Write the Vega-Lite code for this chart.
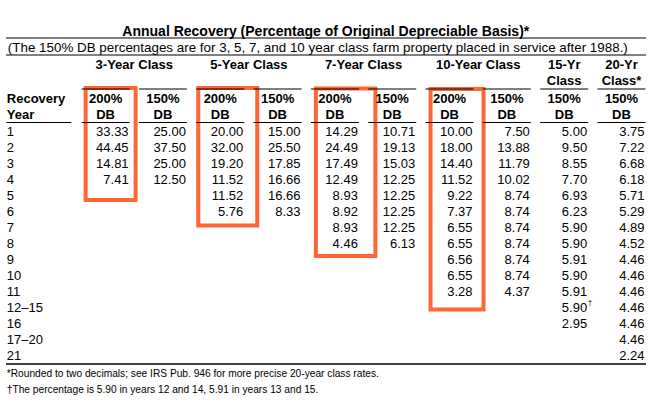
{
  "$schema": "https://vega.github.io/schema/vega-lite/v6.json",
  "width": 657,
  "height": 405,
  "autosize": {"type": "fit", "contains": "padding"},
  "padding": {"left": 5, "right": 10, "top": 0, "bottom": 0},
  "background": "white",
  "config": {"view": {"stroke": null}, "text": {"font": "Liberation Sans", "fontSize": 13, "color": "black"}},
  "datasets": {
    "cells": [
      {"row": 1, "col": 1, "v": 33.33}, {"row": 2, "col": 1, "v": 44.45}, {"row": 3, "col": 1, "v": 14.81}, {"row": 4, "col": 1, "v": 7.41},
      {"row": 1, "col": 2, "v": 25.00}, {"row": 2, "col": 2, "v": 37.50}, {"row": 3, "col": 2, "v": 25.00}, {"row": 4, "col": 2, "v": 12.50},
      {"row": 1, "col": 3, "v": 20.00}, {"row": 2, "col": 3, "v": 32.00}, {"row": 3, "col": 3, "v": 19.20}, {"row": 4, "col": 3, "v": 11.52}, {"row": 5, "col": 3, "v": 11.52}, {"row": 6, "col": 3, "v": 5.76},
      {"row": 1, "col": 4, "v": 15.00}, {"row": 2, "col": 4, "v": 25.50}, {"row": 3, "col": 4, "v": 17.85}, {"row": 4, "col": 4, "v": 16.66}, {"row": 5, "col": 4, "v": 16.66}, {"row": 6, "col": 4, "v": 8.33},
      {"row": 1, "col": 5, "v": 14.29}, {"row": 2, "col": 5, "v": 24.49}, {"row": 3, "col": 5, "v": 17.49}, {"row": 4, "col": 5, "v": 12.49}, {"row": 5, "col": 5, "v": 8.93}, {"row": 6, "col": 5, "v": 8.92}, {"row": 7, "col": 5, "v": 8.93}, {"row": 8, "col": 5, "v": 4.46},
      {"row": 1, "col": 6, "v": 10.71}, {"row": 2, "col": 6, "v": 19.13}, {"row": 3, "col": 6, "v": 15.03}, {"row": 4, "col": 6, "v": 12.25}, {"row": 5, "col": 6, "v": 12.25}, {"row": 6, "col": 6, "v": 12.25}, {"row": 7, "col": 6, "v": 12.25}, {"row": 8, "col": 6, "v": 6.13},
      {"row": 1, "col": 7, "v": 10.00}, {"row": 2, "col": 7, "v": 18.00}, {"row": 3, "col": 7, "v": 14.40}, {"row": 4, "col": 7, "v": 11.52}, {"row": 5, "col": 7, "v": 9.22}, {"row": 6, "col": 7, "v": 7.37}, {"row": 7, "col": 7, "v": 6.55}, {"row": 8, "col": 7, "v": 6.55}, {"row": 9, "col": 7, "v": 6.56}, {"row": 10, "col": 7, "v": 6.55}, {"row": 11, "col": 7, "v": 3.28},
      {"row": 1, "col": 8, "v": 7.50}, {"row": 2, "col": 8, "v": 13.88}, {"row": 3, "col": 8, "v": 11.79}, {"row": 4, "col": 8, "v": 10.02}, {"row": 5, "col": 8, "v": 8.74}, {"row": 6, "col": 8, "v": 8.74}, {"row": 7, "col": 8, "v": 8.74}, {"row": 8, "col": 8, "v": 8.74}, {"row": 9, "col": 8, "v": 8.74}, {"row": 10, "col": 8, "v": 8.74}, {"row": 11, "col": 8, "v": 4.37},
      {"row": 1, "col": 9, "v": 5.00}, {"row": 2, "col": 9, "v": 9.50}, {"row": 3, "col": 9, "v": 8.55}, {"row": 4, "col": 9, "v": 7.70}, {"row": 5, "col": 9, "v": 6.93}, {"row": 6, "col": 9, "v": 6.23}, {"row": 7, "col": 9, "v": 5.90}, {"row": 8, "col": 9, "v": 5.90}, {"row": 9, "col": 9, "v": 5.91}, {"row": 10, "col": 9, "v": 5.90}, {"row": 11, "col": 9, "v": 5.91}, {"row": 12, "col": 9, "v": 5.90}, {"row": 13, "col": 9, "v": 2.95},
      {"row": 1, "col": 10, "v": 3.75}, {"row": 2, "col": 10, "v": 7.22}, {"row": 3, "col": 10, "v": 6.68}, {"row": 4, "col": 10, "v": 6.18}, {"row": 5, "col": 10, "v": 5.71}, {"row": 6, "col": 10, "v": 5.29}, {"row": 7, "col": 10, "v": 4.89}, {"row": 8, "col": 10, "v": 4.52}, {"row": 9, "col": 10, "v": 4.46}, {"row": 10, "col": 10, "v": 4.46}, {"row": 11, "col": 10, "v": 4.46}, {"row": 12, "col": 10, "v": 4.46}, {"row": 13, "col": 10, "v": 4.46}, {"row": 14, "col": 10, "v": 4.46}, {"row": 15, "col": 10, "v": 2.24}
    ],
    "years": [
      {"row": 1, "col": 0, "t": "1"}, {"row": 2, "col": 0, "t": "2"}, {"row": 3, "col": 0, "t": "3"}, {"row": 4, "col": 0, "t": "4"}, {"row": 5, "col": 0, "t": "5"},
      {"row": 6, "col": 0, "t": "6"}, {"row": 7, "col": 0, "t": "7"}, {"row": 8, "col": 0, "t": "8"}, {"row": 9, "col": 0, "t": "9"}, {"row": 10, "col": 0, "t": "10"},
      {"row": 11, "col": 0, "t": "11"}, {"row": 12, "col": 0, "t": "12–15"}, {"row": 13, "col": 0, "t": "16"}, {"row": 14, "col": 0, "t": "17–20"}, {"row": 15, "col": 0, "t": "21"}
    ],
    "stub": [{"row": -1, "col": 0, "t": "Recovery"}, {"row": 0, "col": 0, "t": "Year"}],
    "classHeads": [
      {"row": -3, "col": 1.5, "t": "3-Year Class"}, {"row": -3, "col": 3.5, "t": "5-Year Class"},
      {"row": -3, "col": 5.5, "t": "7-Year Class"}, {"row": -3, "col": 7.5, "t": "10-Year Class"},
      {"row": -3, "col": 9, "t": "15-Yr"}, {"row": -2, "col": 9, "t": "Class"},
      {"row": -3, "col": 10, "t": "20-Yr"}, {"row": -2, "col": 10, "t": "Class*"}
    ],
    "colHeads": [
      {"row": -1, "col": 1, "t": "200%"}, {"row": 0, "col": 1, "t": "DB"},
      {"row": -1, "col": 2, "t": "150%"}, {"row": 0, "col": 2, "t": "DB"},
      {"row": -1, "col": 3, "t": "200%"}, {"row": 0, "col": 3, "t": "DB"},
      {"row": -1, "col": 4, "t": "150%"}, {"row": 0, "col": 4, "t": "DB"},
      {"row": -1, "col": 5, "t": "200%"}, {"row": 0, "col": 5, "t": "DB"},
      {"row": -1, "col": 6, "t": "150%"}, {"row": 0, "col": 6, "t": "DB"},
      {"row": -1, "col": 7, "t": "200%"}, {"row": 0, "col": 7, "t": "DB"},
      {"row": -1, "col": 8, "t": "150%"}, {"row": 0, "col": 8, "t": "DB"},
      {"row": -1, "col": 9, "t": "150%"}, {"row": 0, "col": 9, "t": "DB"},
      {"row": -1, "col": 10, "t": "150%"}, {"row": 0, "col": 10, "t": "DB"}
    ],
    "colLines": [
      {"col": 1}, {"col": 2}, {"col": 3}, {"col": 4}, {"col": 5},
      {"col": 6}, {"col": 7}, {"col": 8}, {"col": 9}, {"col": 10}
    ],
    "notes": [
      {"row": 16, "col": 0, "t": "*Rounded to two decimals; see IRS Pub. 946 for more precise 20-year class rates."},
      {"row": 17, "col": 0, "t": "†The percentage is 5.90 in years 12 and 14, 5.91 in years 13 and 15."}
    ],
    "daggers": [{"row": 12, "col": 9, "t": "†"}]
  },
  "layer": [
    {
      "data": {"values": [{"col": 1, "top": -1, "bottom": 4}]},
      "mark": {"type": "rect", "fill": null, "stroke": "#FF6633", "strokeWidth": 4, "xOffset": -43, "x2Offset": 7, "yOffset": -11.5, "y2Offset": 20.5},
      "encoding": {
        "x": {"field": "col", "type": "quantitative", "scale": {"domain": [-1.1391304, 10.026087], "nice": false, "zero": false}, "axis": null},
        "x2": {"field": "col"},
        "y": {"field": "top", "type": "quantitative", "scale": {"domain": [-7.21875, 18.09375], "nice": false, "zero": false, "reverse": true}, "axis": null},
        "y2": {"field": "bottom"}
      }
    },
    {
      "data": {"values": [{"col": 3, "top": -1, "bottom": 6}]},
      "mark": {"type": "rect", "fill": null, "stroke": "#FF6633", "strokeWidth": 4, "xOffset": -45, "x2Offset": 14, "yOffset": -11.5, "y2Offset": 14},
      "encoding": {
        "x": {"field": "col", "type": "quantitative", "scale": {"domain": [-1.1391304, 10.026087], "nice": false, "zero": false}, "axis": null},
        "x2": {"field": "col"},
        "y": {"field": "top", "type": "quantitative", "scale": {"domain": [-7.21875, 18.09375], "nice": false, "zero": false, "reverse": true}, "axis": null},
        "y2": {"field": "bottom"}
      }
    },
    {
      "data": {"values": [{"col": 5, "top": -1, "bottom": 8}]},
      "mark": {"type": "rect", "fill": null, "stroke": "#FF6633", "strokeWidth": 4, "xOffset": -42, "x2Offset": 17.5, "yOffset": -11, "y2Offset": 12.5},
      "encoding": {
        "x": {"field": "col", "type": "quantitative", "scale": {"domain": [-1.1391304, 10.026087], "nice": false, "zero": false}, "axis": null},
        "x2": {"field": "col"},
        "y": {"field": "top", "type": "quantitative", "scale": {"domain": [-7.21875, 18.09375], "nice": false, "zero": false, "reverse": true}, "axis": null},
        "y2": {"field": "bottom"}
      }
    },
    {
      "data": {"values": [{"col": 7, "top": -1, "bottom": 11}]},
      "mark": {"type": "rect", "fill": null, "stroke": "#FF6633", "strokeWidth": 4, "xOffset": -42, "x2Offset": 11, "yOffset": -10.5, "y2Offset": 18},
      "encoding": {
        "x": {"field": "col", "type": "quantitative", "scale": {"domain": [-1.1391304, 10.026087], "nice": false, "zero": false}, "axis": null},
        "x2": {"field": "col"},
        "y": {"field": "top", "type": "quantitative", "scale": {"domain": [-7.21875, 18.09375], "nice": false, "zero": false, "reverse": true}, "axis": null},
        "y2": {"field": "bottom"}
      }
    },
    {
      "data": {"values": [{"row": -5}]},
      "mark": {"type": "rule", "color": "black", "strokeWidth": 1, "yOffset": 2.5},
      "encoding": {
        "y": {"field": "row", "type": "quantitative", "scale": {"domain": [-7.21875, 18.09375], "nice": false, "zero": false, "reverse": true}, "axis": null}
      }
    },
    {
      "data": {"values": [{"row": -4}]},
      "mark": {"type": "rule", "color": "black", "strokeWidth": 1, "yOffset": 3.5},
      "encoding": {
        "y": {"field": "row", "type": "quantitative", "scale": {"domain": [-7.21875, 18.09375], "nice": false, "zero": false, "reverse": true}, "axis": null}
      }
    },
    {
      "data": {"values": [{"row": 15}]},
      "mark": {"type": "rule", "color": "black", "strokeWidth": 1.5, "yOffset": 8.5},
      "encoding": {
        "y": {"field": "row", "type": "quantitative", "scale": {"domain": [-7.21875, 18.09375], "nice": false, "zero": false, "reverse": true}, "axis": null}
      }
    },
    {
      "data": {"name": "colLines"},
      "mark": {"type": "rule", "color": "black", "strokeWidth": 1, "xOffset": -47, "x2Offset": 1, "yOffset": -10.5},
      "encoding": {
        "x": {"field": "col", "type": "quantitative", "scale": {"domain": [-1.1391304, 10.026087], "nice": false, "zero": false}, "axis": null},
        "x2": {"field": "col"},
        "y": {"datum": -1, "type": "quantitative", "scale": {"domain": [-7.21875, 18.09375], "nice": false, "zero": false, "reverse": true}, "axis": null}
      }
    },
    {
      "data": {"name": "colLines"},
      "mark": {"type": "rule", "color": "black", "strokeWidth": 1, "xOffset": -47, "x2Offset": 1, "yOffset": 7},
      "encoding": {
        "x": {"field": "col", "type": "quantitative", "scale": {"domain": [-1.1391304, 10.026087], "nice": false, "zero": false}, "axis": null},
        "x2": {"field": "col"},
        "y": {"datum": 0, "type": "quantitative", "scale": {"domain": [-7.21875, 18.09375], "nice": false, "zero": false, "reverse": true}, "axis": null}
      }
    },
    {
      "data": {"values": [{"col": 0, "row": 0}]},
      "mark": {"type": "rule", "color": "black", "strokeWidth": 1, "xOffset": -65, "x2Offset": 0, "yOffset": 7},
      "encoding": {
        "x": {"field": "col", "type": "quantitative", "scale": {"domain": [-1.1391304, 10.026087], "nice": false, "zero": false}, "axis": null},
        "x2": {"field": "col"},
        "y": {"field": "row", "type": "quantitative", "scale": {"domain": [-7.21875, 18.09375], "nice": false, "zero": false, "reverse": true}, "axis": null}
      }
    },
    {
      "data": {"values": [{"row": -5, "col": 4.44, "t": "Annual Recovery (Percentage of Original Depreciable Basis)*"}]},
      "mark": {"type": "text", "fontWeight": "bold", "fontSize": 14, "align": "center", "baseline": "alphabetic"},
      "encoding": {
        "x": {"field": "col", "type": "quantitative", "scale": {"domain": [-1.1391304, 10.026087], "nice": false, "zero": false}, "axis": null},
        "y": {"field": "row", "type": "quantitative", "scale": {"domain": [-7.21875, 18.09375], "nice": false, "zero": false, "reverse": true}, "axis": null},
        "text": {"field": "t"}
      }
    },
    {
      "data": {"values": [{"row": -4, "col": 0, "t": "(The 150% DB percentages are for 3, 5, 7, and 10 year class farm property placed in service after 1988.)"}]},
      "mark": {"type": "text", "fontSize": 13.4, "align": "left", "baseline": "alphabetic", "dx": -63.5},
      "encoding": {
        "x": {"field": "col", "type": "quantitative", "scale": {"domain": [-1.1391304, 10.026087], "nice": false, "zero": false}, "axis": null},
        "y": {"field": "row", "type": "quantitative", "scale": {"domain": [-7.21875, 18.09375], "nice": false, "zero": false, "reverse": true}, "axis": null},
        "text": {"field": "t"}
      }
    },
    {
      "data": {"name": "classHeads"},
      "mark": {"type": "text", "fontWeight": "bold", "fontSize": 13, "align": "center", "baseline": "middle", "dx": -23, "dy": -2.5},
      "encoding": {
        "x": {"field": "col", "type": "quantitative", "scale": {"domain": [-1.1391304, 10.026087], "nice": false, "zero": false}, "axis": null},
        "y": {"field": "row", "type": "quantitative", "scale": {"domain": [-7.21875, 18.09375], "nice": false, "zero": false, "reverse": true}, "axis": null},
        "text": {"field": "t"}
      }
    },
    {
      "data": {"name": "colHeads"},
      "mark": {"type": "text", "fontWeight": "bold", "fontSize": 13, "align": "center", "baseline": "middle", "dx": -23, "dy": -1},
      "encoding": {
        "x": {"field": "col", "type": "quantitative", "scale": {"domain": [-1.1391304, 10.026087], "nice": false, "zero": false}, "axis": null},
        "y": {"field": "row", "type": "quantitative", "scale": {"domain": [-7.21875, 18.09375], "nice": false, "zero": false, "reverse": true}, "axis": null},
        "text": {"field": "t"}
      }
    },
    {
      "data": {"name": "stub"},
      "mark": {"type": "text", "fontWeight": "bold", "fontSize": 13, "align": "left", "baseline": "middle", "dx": -64.5, "dy": -1},
      "encoding": {
        "x": {"field": "col", "type": "quantitative", "scale": {"domain": [-1.1391304, 10.026087], "nice": false, "zero": false}, "axis": null},
        "y": {"field": "row", "type": "quantitative", "scale": {"domain": [-7.21875, 18.09375], "nice": false, "zero": false, "reverse": true}, "axis": null},
        "text": {"field": "t"}
      }
    },
    {
      "data": {"name": "years"},
      "mark": {"type": "text", "fontSize": 13, "align": "left", "baseline": "middle", "dx": -64.5},
      "encoding": {
        "x": {"field": "col", "type": "quantitative", "scale": {"domain": [-1.1391304, 10.026087], "nice": false, "zero": false}, "axis": null},
        "y": {"field": "row", "type": "quantitative", "scale": {"domain": [-7.21875, 18.09375], "nice": false, "zero": false, "reverse": true}, "axis": null},
        "text": {"field": "t"}
      }
    },
    {
      "data": {"name": "cells"},
      "mark": {"type": "text", "fontSize": 13, "align": "right", "baseline": "middle"},
      "encoding": {
        "x": {"field": "col", "type": "quantitative", "scale": {"domain": [-1.1391304, 10.026087], "nice": false, "zero": false}, "axis": null},
        "y": {"field": "row", "type": "quantitative", "scale": {"domain": [-7.21875, 18.09375], "nice": false, "zero": false, "reverse": true}, "axis": null},
        "text": {"field": "v", "type": "quantitative", "format": ".2f"}
      }
    },
    {
      "data": {"name": "daggers"},
      "mark": {"type": "text", "fontSize": 8, "align": "left", "baseline": "middle", "dx": 0.5, "dy": -5},
      "encoding": {
        "x": {"field": "col", "type": "quantitative", "scale": {"domain": [-1.1391304, 10.026087], "nice": false, "zero": false}, "axis": null},
        "y": {"field": "row", "type": "quantitative", "scale": {"domain": [-7.21875, 18.09375], "nice": false, "zero": false, "reverse": true}, "axis": null},
        "text": {"field": "t"}
      }
    },
    {
      "data": {"name": "notes"},
      "mark": {"type": "text", "fontSize": 10.2, "align": "left", "baseline": "middle", "dx": -64.5, "dy": 2},
      "encoding": {
        "x": {"field": "col", "type": "quantitative", "scale": {"domain": [-1.1391304, 10.026087], "nice": false, "zero": false}, "axis": null},
        "y": {"field": "row", "type": "quantitative", "scale": {"domain": [-7.21875, 18.09375], "nice": false, "zero": false, "reverse": true}, "axis": null},
        "text": {"field": "t"}
      }
    }
  ]
}
